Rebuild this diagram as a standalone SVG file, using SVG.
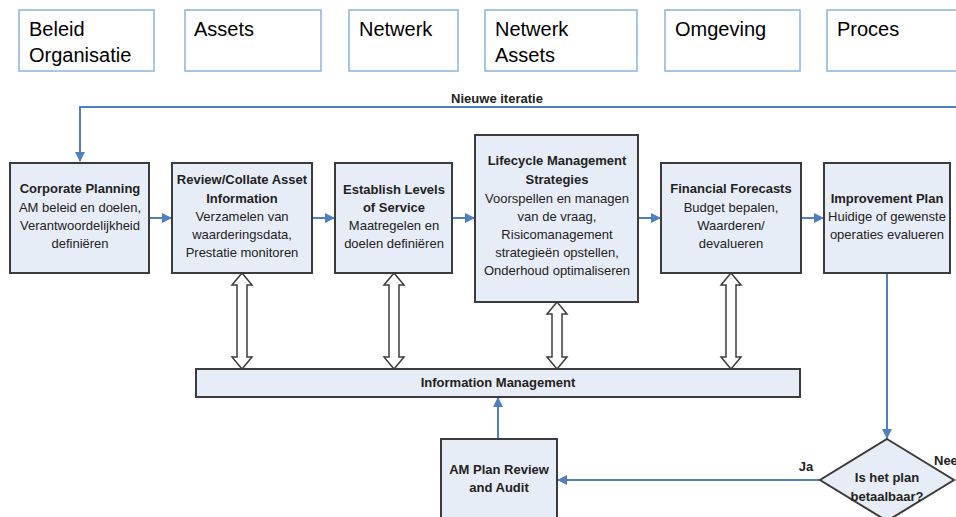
<svg xmlns="http://www.w3.org/2000/svg" width="956" height="517" viewBox="0 0 956 517">
<defs>
<style>
.cat{fill:#fff;stroke:#8db3dc;stroke-width:1.5}
.ct{font-family:"Liberation Sans",Arial,sans-serif;font-size:20px;fill:#000}
.box{fill:#e7edf7;stroke:#3c3c3c;stroke-width:2}
.t{font-family:"Liberation Sans",Arial,sans-serif;font-size:13px;fill:#222;text-anchor:middle}
.b{font-weight:bold}
.con{fill:none;stroke:#4f7fbf;stroke-width:2}
.dbl{fill:#fff;stroke:#3c3c3c;stroke-width:1.5}
</style>
<marker id="ah" viewBox="0 0 10 10" refX="9" refY="5" markerWidth="5" markerHeight="5" orient="auto" markerUnits="strokeWidth">
<path d="M0,0 L10,5 L0,10 Z" fill="#4f7fbf"/>
</marker>
</defs>

<g id="cat-beleid"><rect class="cat" x="19" y="10" width="135" height="61"/><text class="ct" x="29" y="36">Beleid</text><text class="ct" x="29" y="62">Organisatie</text></g>
<g id="cat-assets"><rect class="cat" x="185" y="10" width="136" height="61"/><text class="ct" x="194" y="36">Assets</text></g>
<g id="cat-netwerk"><rect class="cat" x="349" y="10" width="109" height="61"/><text class="ct" x="359" y="36">Netwerk</text></g>
<g id="cat-netwerkassets"><rect class="cat" x="485" y="10" width="152" height="61"/><text class="ct" x="495" y="36">Netwerk</text><text class="ct" x="495" y="62">Assets</text></g>
<g id="cat-omgeving"><rect class="cat" x="665" y="10" width="135" height="61"/><text class="ct" x="675" y="36">Omgeving</text></g>
<g id="cat-proces"><rect class="cat" x="827" y="10" width="140" height="61"/><text class="ct" x="837" y="36">Proces</text></g>

<g id="connectors">
<polyline class="con" points="956,107 80,107 80,161" marker-end="url(#ah)"/>
<text class="t b" x="497" y="103">Nieuwe iteratie</text>
<line class="con" x1="149" y1="218" x2="171" y2="218" marker-end="url(#ah)"/>
<line class="con" x1="312" y1="218" x2="334" y2="218" marker-end="url(#ah)"/>
<line class="con" x1="452" y1="218" x2="474" y2="218" marker-end="url(#ah)"/>
<line class="con" x1="638" y1="218" x2="660" y2="218" marker-end="url(#ah)"/>
<line class="con" x1="801" y1="218" x2="823" y2="218" marker-end="url(#ah)"/>
<line class="con" x1="887" y1="273" x2="887" y2="438" marker-end="url(#ah)"/>
<line class="con" x1="820" y1="480" x2="558" y2="480" marker-end="url(#ah)"/>
<line class="con" x1="498" y1="439" x2="498" y2="398" marker-end="url(#ah)"/>
<text class="t b" x="806" y="471">Ja</text>
<text class="t b" x="934" y="465" text-anchor="start" style="text-anchor:start">Nee</text>
<path class="dbl" d="M242,273 L252,285 L247,285 L247,357 L252,357 L242,369 L232,357 L237,357 L237,285 L232,285 Z"/>
<path class="dbl" d="M394,273 L404,285 L399,285 L399,357 L404,357 L394,369 L384,357 L389,357 L389,285 L384,285 Z"/>
<path class="dbl" d="M557,302 L567,314 L562,314 L562,357 L567,357 L557,369 L547,357 L552,357 L552,314 L547,314 Z"/>
<path class="dbl" d="M731,273 L741,285 L736,285 L736,357 L741,357 L731,369 L721,357 L726,357 L726,285 L721,285 Z"/>
</g>

<g id="corporate-planning"><rect class="box" x="10" y="163" width="139" height="110"/>
<text class="t b" x="80" y="193">Corporate Planning</text>
<text class="t" x="80" y="212">AM beleid en doelen,</text>
<text class="t" x="80" y="230">Verantwoordelijkheid</text>
<text class="t" x="80" y="248">definiëren</text></g>

<g id="review-collate"><rect class="box" x="172" y="163" width="140" height="110"/>
<text class="t b" x="242" y="184">Review/Collate Asset</text>
<text class="t b" x="242" y="203">Information</text>
<text class="t" x="242" y="221">Verzamelen van</text>
<text class="t" x="242" y="239">waarderingsdata,</text>
<text class="t" x="242" y="257">Prestatie monitoren</text></g>

<g id="establish-los"><rect class="box" x="335" y="163" width="117" height="110"/>
<text class="t b" x="394" y="194">Establish Levels</text>
<text class="t b" x="394" y="212">of Service</text>
<text class="t" x="394" y="230">Maatregelen en</text>
<text class="t" x="394" y="248">doelen definiëren</text></g>

<g id="lifecycle"><rect class="box" x="475" y="135" width="163" height="167"/>
<text class="t b" x="557" y="165">Lifecycle Management</text>
<text class="t b" x="557" y="184">Strategies</text>
<text class="t" x="557" y="203">Voorspellen en managen</text>
<text class="t" x="557" y="221">van de vraag,</text>
<text class="t" x="557" y="239">Risicomanagement</text>
<text class="t" x="557" y="257">strategieën opstellen,</text>
<text class="t" x="557" y="275">Onderhoud optimaliseren</text></g>

<g id="financial"><rect class="box" x="661" y="163" width="140" height="110"/>
<text class="t b" x="731" y="193">Financial Forecasts</text>
<text class="t" x="731" y="212">Budget bepalen,</text>
<text class="t" x="731" y="230">Waarderen/</text>
<text class="t" x="731" y="248">devalueren</text></g>

<g id="improvement"><rect class="box" x="824" y="163" width="126" height="110"/>
<text class="t b" x="887" y="203">Improvement Plan</text>
<text class="t" x="887" y="221">Huidige of gewenste</text>
<text class="t" x="887" y="239">operaties evalueren</text></g>

<g id="information-management"><rect class="box" x="196" y="369" width="604" height="28"/>
<text class="t b" x="498" y="387">Information Management</text></g>

<g id="am-plan-review"><rect class="box" x="441" y="439" width="116" height="90"/>
<text class="t b" x="499" y="474">AM Plan Review</text>
<text class="t b" x="499" y="492">and Audit</text></g>

<g id="decision"><polygon class="box" points="887,439 954,480 887,521 820,480"/>
<text class="t b" x="887" y="482">Is het plan</text>
<text class="t b" x="887" y="501">betaalbaar?</text></g>
</svg>
